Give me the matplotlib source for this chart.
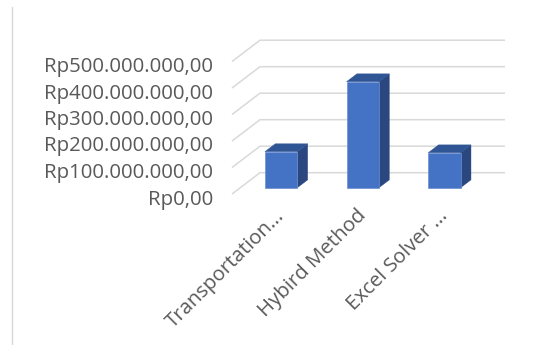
import matplotlib
matplotlib.use("Agg")
import matplotlib.pyplot as plt
from matplotlib.patches import Polygon
from matplotlib.lines import Line2D
from matplotlib.transforms import ScaledTranslation

# ---- data ----
categories = ["Transportation...", "Hybird Method", "Excel Solver ..."]
values = [136e6, 400e6, 132e6]
tick_values = [0, 100e6, 200e6, 300e6, 400e6, 500e6]
tick_labels = ["Rp0,00", "Rp100.000.000,00", "Rp200.000.000,00",
               "Rp300.000.000,00", "Rp400.000.000,00", "Rp500.000.000,00"]

# ---- styles ----
W, H, DPI = 539, 345, 100
TXT = "#595959"
GRID = "#d9d9d9"
FRONT = "#4472c4"
SIDE = "#2a4780"
TOP = "#305595"
DEPTH_DX, DEPTH_DY = 28.0, 21.3     # pixel offset of back wall vs front edge
T_FRONT, T_BACK = 0.296, 0.664       # bar depth (fraction of floor depth)
BAR_W = 0.397
FS = 14.7

plt.rcParams['font.family'] = ['Open Sans', 'DejaVu Sans']

fig = plt.figure(figsize=(W / DPI, H / DPI), dpi=DPI)
# axes = front plane of the floor (category range -0.5..2.5, values 0..500M)
left, right = 232 / W, 477 / W
bottom, top = (H - 194) / H, (H - 61.5) / H
ax = fig.add_axes([left, bottom, right - left, top - bottom])
ax.set_xlim(-0.5, 2.5)
ax.set_ylim(0, 500e6)
ax.axis("off")

ppx_x = (right - left) * W / 3.0
ppx_y = (top - bottom) * H / 500e6


def off(t):
    return DEPTH_DX * t / ppx_x, DEPTH_DY * t / ppx_y


# back wall and side wall gridlines
bx, by = off(1.0)
for v in tick_values:
    ax.plot([-0.5, -0.5 + bx, 2.5 + bx], [v, v + by, v + by],
            color=GRID, lw=1.1, clip_on=False, solid_capstyle="butt", zorder=1)

# bars
fx, fy = off(T_FRONT)
kx, ky = off(T_BACK)
xs = list(range(len(categories)))
ax.bar([x + fx for x in xs], values, width=BAR_W, bottom=fy,
       color=FRONT, edgecolor="#6d8fd0", linewidth=0.5, zorder=3, clip_on=False)
for x, v in zip(xs, values):
    r = x + BAR_W / 2
    l = x - BAR_W / 2
    side = [(r + fx, fy), (r + kx, ky), (r + kx, v + ky), (r + fx, v + fy)]
    topf = [(l + fx, v + fy), (r + fx, v + fy), (r + kx, v + ky), (l + kx, v + ky)]
    ax.add_patch(Polygon(side, closed=True, facecolor=SIDE, edgecolor=SIDE,
                         lw=0.3, zorder=2.5, clip_on=False))
    ax.add_patch(Polygon(topf, closed=True, facecolor=TOP, edgecolor=TOP,
                         lw=0.3, zorder=2.6, clip_on=False))

# value labels
ytr = ax.transData + ScaledTranslation(-19 / DPI, -10.5 / DPI, fig.dpi_scale_trans)
for v, lab in zip(tick_values, tick_labels):
    ax.text(-0.5, v, lab, transform=ytr, ha="right", va="baseline",
            fontsize=FS, color=TXT, clip_on=False)

# category labels
xtr = ax.transData + ScaledTranslation(9 / DPI, -19 / DPI, fig.dpi_scale_trans)
for x, lab in zip(xs, categories):
    ax.text(x, 0, lab, transform=xtr, ha="right", va="center", rotation=45,
            rotation_mode="anchor", fontsize=FS, color=TXT, clip_on=False)

# chart border line on the left
fig.add_artist(Line2D([11.5 / W, 11.5 / W], [0, (H - 7) / H],
                      transform=fig.transFigure, color=GRID, lw=1.0))

fig.savefig("out.png", dpi=DPI)
